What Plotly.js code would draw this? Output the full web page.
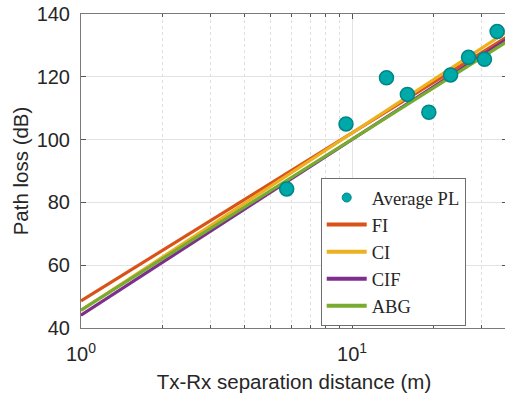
<!DOCTYPE html>
<html>
<head>
<meta charset="utf-8">
<script src="https://cdn.plot.ly/plotly-3.0.1.min.js"></script>
<style>
html,body{margin:0;padding:0;overflow:hidden;background:#fff;}
#chart{width:510px;height:397px;}
</style>
</head>
<body>
<div id="chart"></div>
<script>
// Measured points
const distance = [5.74, 9.5, 13.4, 16.0, 19.2, 23.1, 26.9, 30.8, 34.3];
const avgPL = [84.3, 105.0, 119.7, 114.4, 108.7, 120.6, 126.2, 125.6, 134.4];

// Model lines (values read at the two ends of the axis)
const lineDist = [1, 37.3];
const plFI = [48.6, 132.7];
const plCI = [45.6, 134.4];
const plCIF = [44.1, 132.0];
const plABG = [45.7, 131.2];

const seriesNames = ['Average PL', 'FI', 'CI', 'CIF', 'ABG'];
const xTickVals = [1, 10];
const xTickText = ['10<sup>0</sup>', '10<sup>1</sup>'];
const xMinorVals = [2, 3, 4, 5, 6, 7, 8, 9, 20, 30];
const yTickVals = [40, 60, 80, 100, 120, 140];

const colFI = '#D95319', colCI = '#EDB120', colCIF = '#7E2F8E', colABG = '#77AC30';
const mFill = '#00A9A9', mEdge = '#008585';

function lineTrace(y, name, color) {
  return {x: lineDist, y: y, name: name, mode: 'lines', type: 'scatter',
          line: {color: color, width: 3.2}, showlegend: false, hoverinfo: 'skip'};
}
function legendLine(name, color) {
  return {x: [null], y: [null], name: name, mode: 'lines', type: 'scatter',
          line: {color: color, width: 4}, showlegend: true};
}

const traces = [
  lineTrace(plFI, seriesNames[1], colFI),
  lineTrace(plCI, seriesNames[2], colCI),
  lineTrace(plCIF, seriesNames[3], colCIF),
  lineTrace(plABG, seriesNames[4], colABG),
  {x: distance, y: avgPL, name: seriesNames[0], mode: 'markers', type: 'scatter',
   marker: {size: 14, color: mFill, line: {color: mEdge, width: 1.5}}, showlegend: false},
  {x: [null], y: [null], name: seriesNames[0], mode: 'markers', type: 'scatter',
   marker: {size: 9, color: mFill, line: {color: mEdge, width: 1}}, showlegend: true},
  legendLine(seriesNames[1], colFI),
  legendLine(seriesNames[2], colCI),
  legendLine(seriesNames[3], colCIF),
  legendLine(seriesNames[4], colABG)
];

const axisFont = {family: 'Liberation Sans, Arial, sans-serif', size: 20, color: '#262626'};
const titleFont = {family: 'Liberation Sans, Arial, sans-serif', size: 20.5, color: '#262626'};

const layout = {
  width: 510, height: 397,
  margin: {l: 81, r: 3, t: 14, b: 69},
  paper_bgcolor: '#fff', plot_bgcolor: '#fff',
  font: axisFont,
  showlegend: true,
  xaxis: {
    type: 'log', range: [0, Math.log10(37.3)],
    tickmode: 'array', tickvals: xTickVals, ticktext: xTickText,
    ticks: 'inside', ticklen: 5, tickcolor: '#555', tickwidth: 1,
    showline: true, linecolor: '#7a7a7a', linewidth: 1, mirror: 'ticks',
    showgrid: true, gridcolor: '#e3e3e3', gridwidth: 1,
    zeroline: false,
    minor: {tickmode: 'array', tickvals: xMinorVals, ticks: 'inside', ticklen: 3,
            tickcolor: '#555', showgrid: true, gridcolor: '#dedede', griddash: 'dot', gridwidth: 1},
    tickfont: axisFont, ticklabelstandoff: 8,
    title: {text: 'Tx-Rx separation distance (m)', font: titleFont, standoff: 10}
  },
  yaxis: {
    range: [40, 140], tickmode: 'array', tickvals: yTickVals,
    ticks: 'inside', ticklen: 5, tickcolor: '#555', tickwidth: 1,
    showline: true, linecolor: '#7a7a7a', linewidth: 1, mirror: 'ticks',
    showgrid: true, gridcolor: '#e3e3e3', gridwidth: 1,
    zeroline: false,
    tickfont: axisFont, ticklabelstandoff: 6,
    title: {text: 'Path loss (dB)', font: titleFont, standoff: 2}
  },
  legend: {
    x: 0.5627, y: 0.4777, xanchor: 'left', yanchor: 'top',
    bgcolor: '#fff', bordercolor: '#6e6e6e', borderwidth: 1,
    font: {family: 'Liberation Serif, DejaVu Serif, serif', size: 18.5, color: '#262626'},
    tracegroupgap: 0, itemwidth: 40
  }
};

Plotly.newPlot('chart', traces, layout, {displayModeBar: false, staticPlot: true});
</script>
</body>
</html>
